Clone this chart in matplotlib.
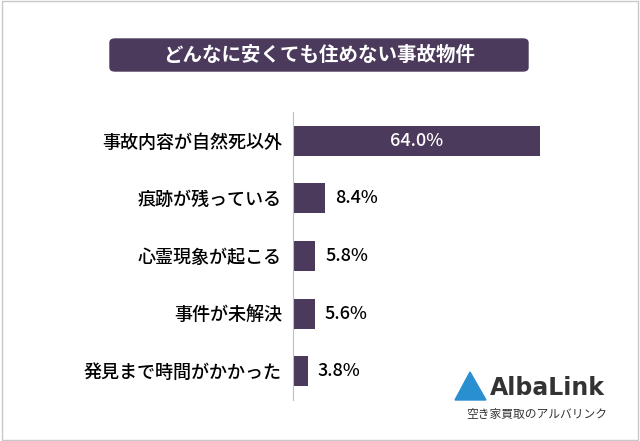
import matplotlib.pyplot as plt
from matplotlib.patches import Rectangle, Polygon, FancyBboxPatch

plt.rcParams['font.family'] = ['Noto Sans CJK JP', 'DejaVu Sans']

categories = ["事故内容が自然死以外", "痕跡が残っている", "心霊現象が起こる", "事件が未解決", "発見まで時間がかかった"]
values = [64.0, 8.4, 5.8, 5.6, 3.8]
title = "どんなに安くても住めない事故物件"
bar_color = "#4b3a5c"

fig = plt.figure(figsize=(6.4, 4.41), dpi=100)
fig.patches.append(Rectangle((0.003, 0.003), 0.994, 0.994, transform=fig.transFigure,
                             fill=False, edgecolor="#c8c8c8", lw=1))

# title box
fig.patches.append(FancyBboxPatch((110 / 640, 1 - 71 / 441), 418 / 640, 32 / 441,
                                  boxstyle="round,pad=0,rounding_size=0.008",
                                  transform=fig.transFigure, color=bar_color))
fig.text(319 / 640, 1 - 55 / 441, title, color="white", fontsize=14,
         ha="center", va="center", fontweight="bold")

ax = fig.add_axes([293 / 640, 1 - 400 / 441, 300 / 640, 288 / 441])
y = list(range(len(categories)))
ax.barh(y, values, height=0.52, color=bar_color)
ax.set_xlim(0, 300 / (247 / 64))
ax.set_ylim(len(categories) - 0.5, -0.5)
ax.set_yticks(y)
ax.set_yticklabels(categories, fontsize=13, fontweight="medium")
ax.tick_params(axis="y", length=0, pad=8)
ax.set_xticks([])
for s in ["top", "right", "bottom"]:
    ax.spines[s].set_visible(False)
ax.spines["left"].set_color("#bfbfbf")

for i, v in enumerate(values):
    if v > 30:
        ax.text(v / 2, i, f"{v:.1f}%", color="white", ha="center", va="center",
                fontsize=13, fontweight="medium")
    else:
        ax.text(v + 2.5, i, f"{v:.1f}%", color="black", ha="left", va="center",
                fontsize=13, fontweight="medium")

# logo
fig.patches.append(Polygon([(455 / 640, 1 - 400 / 441), (470 / 640, 1 - 372 / 441),
                            (486 / 640, 1 - 400 / 441)], closed=True,
                           transform=fig.transFigure, color="#2a8fd0"))
fig.text(490 / 640, 1 - 388 / 441, "AlbaLink", fontsize=17, color="#333333",
         ha="left", va="center", fontweight="bold", family="DejaVu Sans")
fig.text(537 / 640, 1 - 414 / 441, "空き家買取のアルバリンク", fontsize=8.5,
         color="#333333", ha="center", va="center")

fig.savefig("out.png", dpi=100)
